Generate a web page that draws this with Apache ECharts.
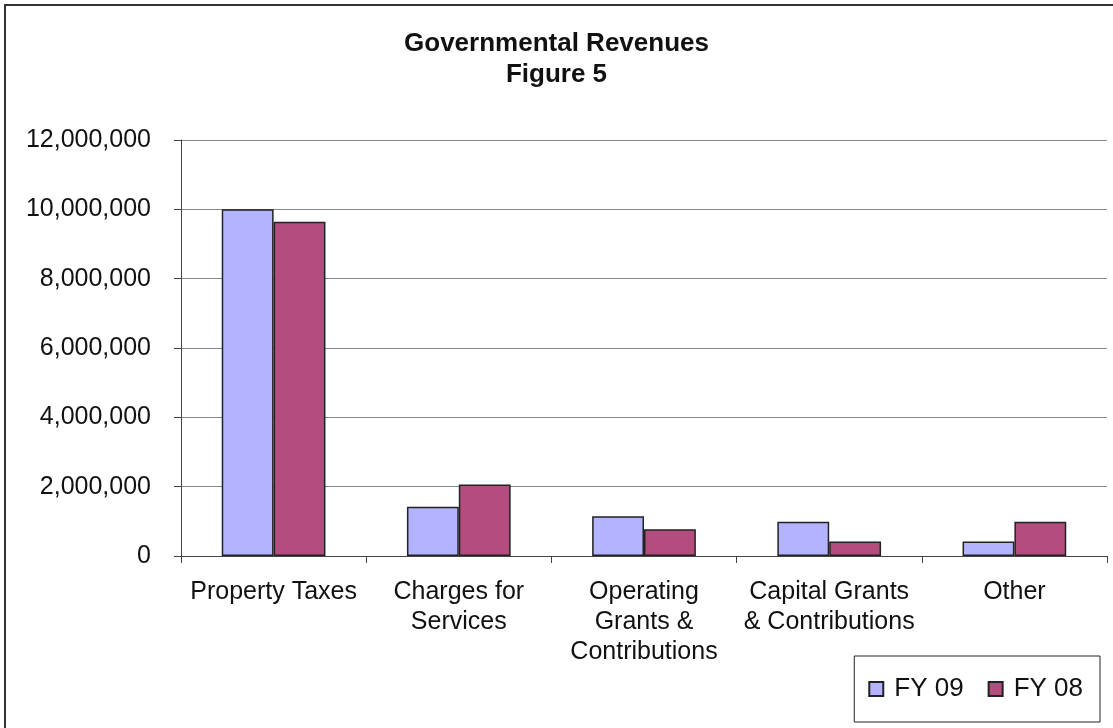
<!DOCTYPE html>
<html lang="en" style="height: 100%">
<head>
  <meta charset="utf-8">
  <style>
    html, body { margin: 0; padding: 0; width: 100%; height: 100%; overflow: hidden; background: #fff; }
  </style>
</head>
<body>
  <div id="container" style="height: 100%; width: 100%;"></div>
  <script src="https://cdn.jsdelivr.net/npm/echarts@6/dist/echarts.min.js"></script>
  <script>
    // categories
    const categories = [
      'Property Taxes',
      'Charges for\nServices',
      'Operating\nGrants &\nContributions',
      'Capital Grants\n& Contributions',
      'Other'
    ];
    // series values
    const fy09 = [10000000, 1420000, 1150000, 990000, 420000];
    const fy08 = [9640000, 2060000, 770000, 420000, 990000];
    const yTicks = [0, 2000000, 4000000, 6000000, 8000000, 10000000, 12000000];

    const myChart = echarts.init(document.getElementById('container'), null, { renderer: 'canvas' });
    const font = 'Liberation Sans, Arial, sans-serif';

    const option = {
      animation: false,
      title: {
        text: 'Governmental Revenues\nFigure 5',
        left: 'center',
        top: 23,
        textStyle: { fontFamily: font, fontSize: 26, fontWeight: 'bold', color: '#111', lineHeight: 31 }
      },
      graphic: [{
        type: 'rect',
        shape: { x: 5, y: 5, width: 1200, height: 800 },
        style: { fill: 'none', stroke: '#333', lineWidth: 2 },
        silent: true
      }],
      legend: {
        right: 13,
        bottom: 6,
        padding: [20, 17, 20, 14],
        borderColor: '#222',
        borderWidth: 1,
        itemWidth: 14,
        itemHeight: 14,
        itemGap: 24,
        icon: 'rect',
        textStyle: { fontFamily: font, fontSize: 26, color: '#111', padding: [2, 0, 0, 6] },
        data: ['FY 09', 'FY 08']
      },
      grid: { left: 181, right: 6, top: 140, bottom: 172 },
      xAxis: {
        type: 'category',
        data: categories,
        axisLine: { lineStyle: { color: '#444', width: 1 } },
        axisTick: { show: true, length: 7, lineStyle: { color: '#444' } },
        axisLabel: { fontFamily: font, fontSize: 25, color: '#111', lineHeight: 30, margin: 21, interval: 0 }
      },
      yAxis: {
        type: 'value',
        min: 0,
        max: yTicks[yTicks.length - 1],
        interval: yTicks[1] - yTicks[0],
        axisLine: { show: true, lineStyle: { color: '#444', width: 1 } },
        axisTick: { show: true, length: 7, lineStyle: { color: '#444' } },
        splitLine: { lineStyle: { color: '#888', width: 1 } },
        axisLabel: {
          fontFamily: font, fontSize: 25, color: '#111', margin: 30,
          formatter: v => v.toLocaleString('en-US')
        }
      },
      series: [
        {
          name: 'FY 09',
          type: 'bar',
          data: fy09,
          barGap: '0%',
          barCategoryGap: '44%',
          itemStyle: { color: '#B3B3FF', borderColor: '#222', borderWidth: 1.5 }
        },
        {
          name: 'FY 08',
          type: 'bar',
          data: fy08,
          itemStyle: { color: '#B34D7D', borderColor: '#222', borderWidth: 1.5 }
        }
      ]
    };

    myChart.setOption(option);
    window.addEventListener('resize', myChart.resize);
  </script>
</body>
</html>
